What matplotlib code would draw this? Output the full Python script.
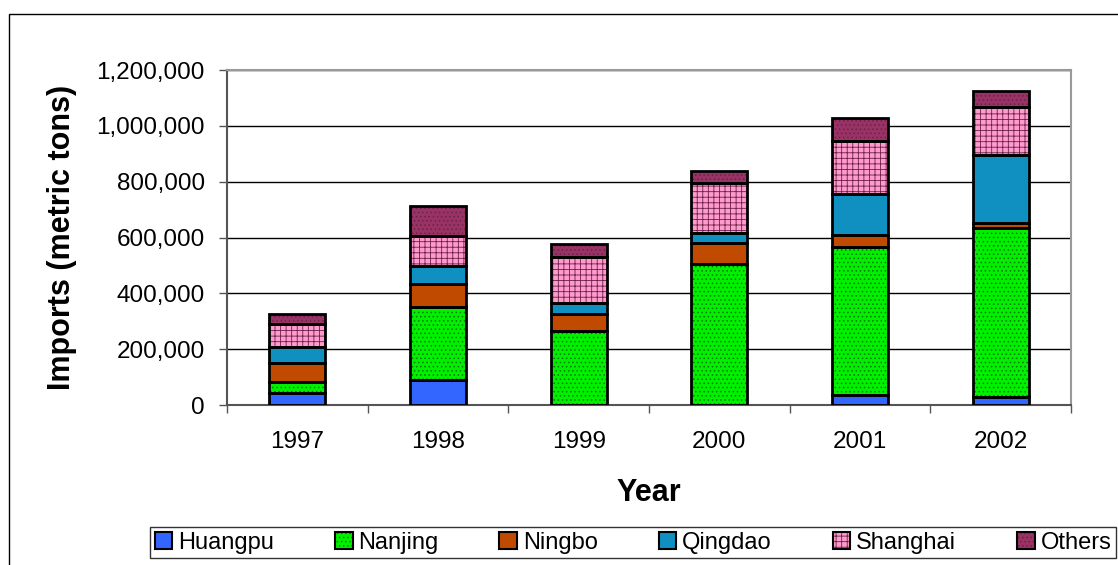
"""Stacked imports by port, 1997-2002."""

import matplotlib
matplotlib.use("Agg")
import matplotlib.pyplot as plt
import numpy as np
from matplotlib.patches import Patch, Rectangle
from matplotlib.ticker import FuncFormatter, FixedLocator

plt.rcParams["font.family"] = ["Liberation Sans", "DejaVu Sans"]
plt.rcParams["hatch.linewidth"] = 0.6

years = ["1997", "1998", "1999", "2000", "2001", "2002"]
ports = ["Huangpu", "Nanjing", "Ningbo", "Qingdao", "Shanghai", "Others"]

huangpu = [42000, 88000, 0, 0, 36000, 30000]
nanjing = [40000, 264000, 265000, 504000, 531000, 603000]
ningbo = [70000, 80000, 60000, 77000, 42000, 20000]
qingdao = [57000, 66000, 41000, 36000, 146000, 242000]
shanghai = [81000, 106000, 165000, 179000, 192000, 174000]
others = [36000, 110000, 46000, 43000, 80000, 57000]

series = [huangpu, nanjing, ningbo, qingdao, shanghai, others]
face_colors = ["#3366FF", "#00F000", "#C04A00", "#1090C0", "#FF9ACD", "#993366"]
hatch_colors = ["#2A55E0", "#007A00", "#A03C00", "#0A7FA8", "#6A2048", "#6E2248"]
hatches = ["", "....", "", "", "+++", "...."]

fig = plt.figure(figsize=(11.18, 5.65), dpi=100)
ax = fig.add_axes([227 / 1118, 1 - 405 / 565, (1071 - 227) / 1118, (405 - 70) / 565])

x = np.arange(len(years))
bottom = np.zeros(len(years))
handles = []
for name, vals, fc, hc, h in zip(ports, series, face_colors, hatch_colors, hatches):
    vals = np.array(vals, dtype=float)
    ax.bar(x, vals, 0.4, bottom=bottom, color=fc, edgecolor=hc, hatch=h,
           linewidth=0, zorder=2)
    ax.bar(x, vals, 0.4, bottom=bottom, fill=False, edgecolor="black",
           linewidth=2, zorder=3)
    bottom += vals
    handles.append((Patch(facecolor=fc, edgecolor=hc, hatch=h, linewidth=0),
                    Patch(fill=False, edgecolor="black", linewidth=1.5)))

ax.set_xlim(-0.5, len(years) - 0.5)
ax.set_ylim(0, 1200000)
ax.set_yticks(np.arange(0, 1200001, 200000))
ax.yaxis.set_major_formatter(FuncFormatter(lambda v, _: f"{int(v):,}"))
ax.yaxis.grid(True, color="black", linewidth=1)
ax.set_axisbelow(True)

ax.set_xticks(x)
ax.set_xticklabels(years)
ax.xaxis.set_minor_locator(FixedLocator(np.arange(-0.5, len(years), 1.0)))
ax.tick_params(axis="x", which="major", length=0, pad=19, labelsize=17.5)
ax.tick_params(axis="x", which="minor", length=6, width=1, color="#555555")
ax.tick_params(axis="y", length=6, width=1, color="#555555", labelsize=17.5, pad=10)

for side in ["top", "right"]:
    ax.spines[side].set_color("#999999")
    ax.spines[side].set_linewidth(1.5)
for side in ["left", "bottom"]:
    ax.spines[side].set_color("#555555")
    ax.spines[side].set_linewidth(1.5)

ax.set_xlabel("Year", fontsize=22, fontweight="bold")
ax.xaxis.set_label_coords(0.5, -(478 - 405) / 335)
ax.set_ylabel("Imports (metric tons)", fontsize=22, fontweight="bold", labelpad=14)

leg = fig.legend(handles, ports, ncol=6, loc="upper left",
                 bbox_to_anchor=(150 / 1118, 1 - 527 / 565 - 0.05, (1116 - 150) / 1118, 0.05),
                 mode="expand", fontsize=17, frameon=True, fancybox=False,
                 edgecolor="black", handlelength=0.75, handleheight=0.75,
                 handletextpad=0.25, borderaxespad=0, borderpad=0.2)
leg.get_frame().set_linewidth(1)

# outer chart border
fig.patches.append(Rectangle((9 / 1118, -0.1), 1.2, 1 - 14 / 565 + 0.1,
                             transform=fig.transFigure, fill=False,
                             edgecolor="black", linewidth=1))

fig.savefig("out.png", dpi=100)
